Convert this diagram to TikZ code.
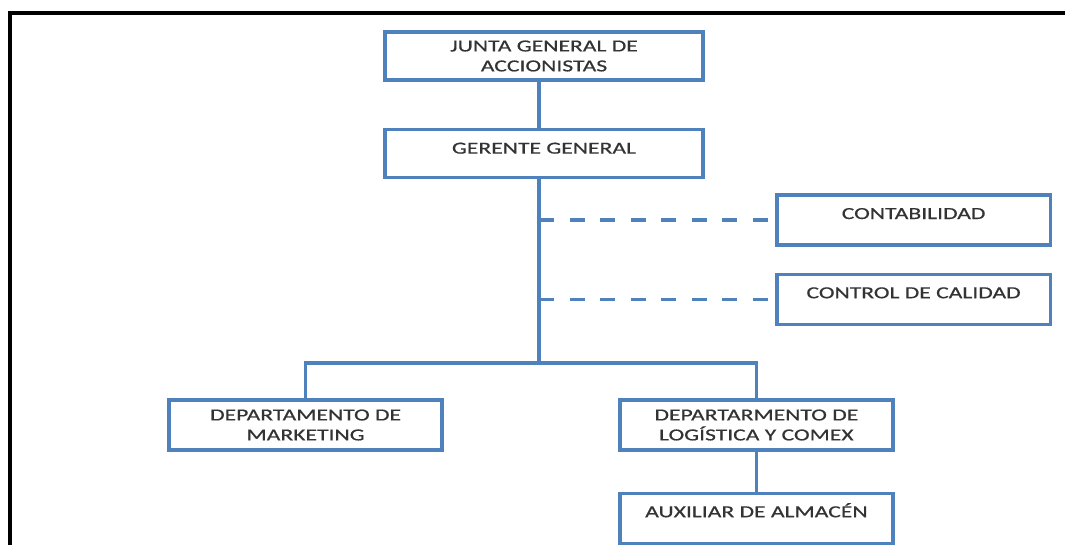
\documentclass[tikz,border=0pt]{standalone}
\usepackage{fontspec}
\newfontfamily\orgfont[FakeStretch=1.4, FakeBold=0.6]{Carlito}
\usetikzlibrary{positioning, calc}
\definecolor{orgblue}{HTML}{4F81BD}

\begin{document}
\begin{tikzpicture}[
    node distance=1cm,
    box/.style={rectangle, draw=orgblue, line width=2.3pt, minimum width=6.825cm, minimum height=1.25cm, inner xsep=2pt, inner ysep=0pt, align=center, font=\orgfont\fontsize{12}{14.2}\selectfont, text=black!80},
    topbox/.style={box, text height=0.6cm, text depth=0.65cm},
    headbox/.style={box, minimum width=7.95cm, minimum height=1.2cm},
    link/.style={draw=orgblue, line width=2.3pt},
    dashlink/.style={link, dash pattern=on 10.7pt off 11pt}
]
    \useasboundingbox (0,0) rectangle (26.625,-13.625);
    % Frame
    \draw[line width=2.6pt] (0.25,-13.625) -- (0.25,-0.325) -- (26.625,-0.325);

    % Top of the chart
    \node[headbox] (junta) at (13.6,-1.4) {JUNTA GENERAL DE\\ACCIONISTAS};
    \node[headbox, text height=0.61cm, text depth=0.59cm, below=1.15cm of junta] (gerente) {GERENTE GENERAL};
    \coordinate (trunk) at (13.475,0);
    \coordinate (bar) at (13.475,-9.075);
    \draw[link] (junta.south -| trunk) -- (gerente.north -| trunk);
    \draw[link] (gerente.south -| trunk) -- (bar);

    % Staff units
    \node[topbox] (conta) at (22.84,-5.5) {CONTABILIDAD};
    \node[topbox, below=0.65cm of conta] (calidad) {CONTROL DE CALIDAD};
    \draw[dashlink] (conta.west -| trunk) -- (conta.west);
    \draw[dashlink] (calidad.west -| trunk) -- (calidad.west);

    % Departments
    \node[box] (mkt) at (7.64,-10.625) {DEPARTAMENTO DE\\MARKETING};
    \node[box] (logis) at (18.91,-10.625) {DEPARTARMENTO DE\\LOGÍSTICA Y COMEX};
    \node[topbox, below=1.0cm of logis] (aux) {AUXILIAR DE ALMACÉN};
    \draw[link] (mkt.north) |- (bar) -| (logis.north);
    \draw[link] (logis.south) -- (aux.north);
\end{tikzpicture}
\end{document}
